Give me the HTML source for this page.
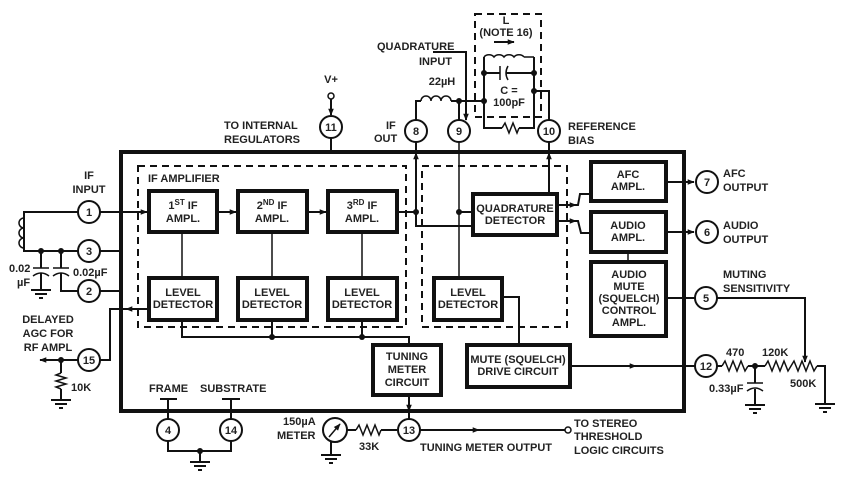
<!DOCTYPE html>
<html><head><meta charset="utf-8"><style>
html,body{margin:0;padding:0;background:#fff}
svg text{font-family:"Liberation Sans",sans-serif;font-weight:bold;font-size:11px;fill:#222}
</style></head><body>
<svg width="845" height="480" viewBox="0 0 845 480" xmlns="http://www.w3.org/2000/svg">
<defs>
<marker id="a" viewBox="0 0 10 10" refX="9" refY="5" markerWidth="8" markerHeight="7" markerUnits="userSpaceOnUse" orient="auto"><path d="M0,1 L10,5 L0,9z" fill="#111"/></marker>
</defs>
<g fill="none" stroke="#111">
<rect x="121" y="152" width="563" height="259" stroke-width="4"/>
<rect x="138" y="166" width="268" height="161" stroke-width="2" stroke-dasharray="7,5"/>
<rect x="422" y="166" width="145" height="161" stroke-width="2" stroke-dasharray="7,5"/>
<rect x="475" y="14" width="66" height="103" stroke-width="2" stroke-dasharray="7,5"/>
<g stroke-width="4">
<rect x="149" y="191" width="68" height="41"/>
<rect x="238" y="191" width="69" height="41"/>
<rect x="328" y="191" width="69" height="41"/>
<rect x="149" y="278" width="68" height="42"/>
<rect x="238" y="278" width="69" height="42"/>
<rect x="328" y="278" width="69" height="42"/>
<rect x="473" y="194" width="84" height="41"/>
<rect x="434" y="278" width="68" height="42"/>
<rect x="591" y="162" width="75" height="39"/>
<rect x="591" y="212" width="75" height="40"/>
<rect x="591" y="262" width="75" height="74"/>
<rect x="373" y="345" width="68" height="50"/>
<rect x="467" y="345" width="103" height="42"/>
</g>
<g stroke-width="1.5">
<line x1="182" y1="232" x2="182" y2="278"/><line x1="272" y1="232" x2="272" y2="278"/><line x1="362" y1="232" x2="362" y2="278"/>
<line x1="459" y1="142" x2="459" y2="278"/>
<line x1="628" y1="252" x2="628" y2="262"/>
</g>
<g stroke-width="2">
<line x1="100" y1="212" x2="147" y2="212" marker-end="url(#a)"/>
<line x1="217" y1="212" x2="236" y2="212" marker-end="url(#a)"/>
<line x1="307" y1="212" x2="326" y2="212" marker-end="url(#a)"/>
<line x1="397" y1="212" x2="416" y2="212"/>
<polyline points="416,212 416,226 440,226"/><line x1="430" y1="226" x2="471" y2="226"/>
<line x1="416" y1="212" x2="416" y2="153" marker-end="url(#a)"/>
<line x1="416" y1="142" x2="416" y2="150"/>
<line x1="459" y1="212" x2="471" y2="212"/>
<line x1="549" y1="194" x2="549" y2="153" marker-end="url(#a)"/>
<line x1="549" y1="142" x2="549" y2="152"/>
<polyline points="557,205 578,205 580,194 590,194"/><line x1="557" y1="205" x2="576" y2="205" marker-end="url(#a)"/>
<polyline points="557,221 578,221 581,233 590,233"/><line x1="557" y1="221" x2="576" y2="221" marker-end="url(#a)"/>
<line x1="666" y1="182" x2="694" y2="182" marker-end="url(#a)"/>
<line x1="666" y1="232" x2="694" y2="232" marker-end="url(#a)"/>
<line x1="666" y1="298" x2="695" y2="298"/>
<polyline points="149,309 110,309 110,360 100,360"/><line x1="149" y1="309" x2="126" y2="309" marker-end="url(#a)"/>
<polyline points="182,320 182,337 409,337 409,345"/>
<line x1="272" y1="320" x2="272" y2="337"/><line x1="362" y1="320" x2="362" y2="337"/>
<polyline points="502,297 519,297 519,345"/>
<line x1="570" y1="366" x2="695" y2="366"/><line x1="570" y1="366" x2="636" y2="366" marker-end="url(#a)"/>
<line x1="409" y1="395" x2="409" y2="411" marker-end="url(#a)"/>
<line x1="409" y1="411" x2="409" y2="419"/>
<line x1="331" y1="138" x2="331" y2="152"/>
<line x1="331" y1="99" x2="331" y2="115" marker-end="url(#a)"/>
<line x1="100" y1="251" x2="121" y2="251"/><line x1="100" y1="291" x2="121" y2="291"/>
<polyline points="78,212 24,212 24,251 78,251"/>
<line x1="41" y1="251" x2="41" y2="268"/><line x1="61" y1="251" x2="61" y2="268"/>
<polyline points="61,273 61,291 78,291"/>
<line x1="41" y1="273" x2="41" y2="290"/>
<line x1="78" y1="360" x2="40" y2="360" marker-end="url(#a)"/>
<line x1="61" y1="360" x2="61" y2="373"/><line x1="61" y1="389" x2="61" y2="400"/>
<line x1="168" y1="399" x2="168" y2="419"/><line x1="231" y1="399" x2="231" y2="419"/>
<line x1="160" y1="399" x2="177" y2="399"/><line x1="222" y1="399" x2="240" y2="399"/>
<polyline points="168,441 168,451 231,451 231,441"/>
<line x1="200" y1="451" x2="200" y2="462"/>
<line x1="346" y1="430" x2="356" y2="430"/><line x1="381" y1="430" x2="397" y2="430"/>
<line x1="331" y1="441" x2="331" y2="455"/>
<line x1="420" y1="430" x2="565" y2="430"/><line x1="420" y1="430" x2="479" y2="430" marker-end="url(#a)"/>
<polyline points="416,120 416,101 421,101"/>
<line x1="451" y1="101" x2="484" y2="101"/><line x1="459" y1="101" x2="459" y2="120"/>
<polyline points="484,73 484,128 502,128"/><polyline points="519,128 534,128 534,73"/>
<polyline points="484,57 484,73"/><polyline points="534,57 534,73"/>
<line x1="484" y1="73" x2="500" y2="73"/><line x1="506" y1="73" x2="534" y2="73"/>
<polyline points="534,91 549,91 549,120"/><line x1="534" y1="73" x2="534" y2="91"/>
<polyline points="433,52 466,52 466,104"/><line x1="466" y1="90" x2="466" y2="120" marker-end="url(#a)"/>
<line x1="494" y1="42" x2="514" y2="42" marker-end="url(#a)"/>
<polyline points="717,298 805,298 805,350"/><line x1="805" y1="330" x2="805" y2="362" marker-end="url(#a)"/>
<line x1="717" y1="366" x2="722" y2="366"/><line x1="748" y1="366" x2="765" y2="366"/>
<line x1="755" y1="366" x2="755" y2="383"/><line x1="755" y1="389" x2="755" y2="405"/>
<polyline points="817,366 825,366 825,404"/>
</g>
<g stroke-width="1.5">
<polyline points="722,366 725,361 729,371 733,361 737,371 741,361 745,371 748,366"/>
<polyline points="765,366 768,361 772,371 776,361 780,371 784,361 788,371 791,366 794,361 798,371 802,361 806,371 810,361 814,371 817,366"/>
<polyline points="356,430 359,425 363,435 367,425 371,435 375,425 379,435 381,430"/>
<polyline points="61,373 56,375 66,378 56,381 66,384 56,387 61,389"/>
<polyline points="502,128 505,123 509,133 513,123 517,133 519,128"/>
<path d="M421,101 a5,5 0 0 1 10,0 a5,5 0 0 1 10,0 a5,5 0 0 1 10,0"/>
<path d="M484,57 a6,5 0 0 1 10,0 a6,5 0 0 1 10,0 a6,5 0 0 1 10,0 a6,5 0 0 1 10,0 M524,57 L534,57"/>
<path d="M24,218 a5,5 0 0 0 0,10 a5,5 0 0 0 0,10 a5,5 0 0 0 0,10"/>
<line x1="500" y1="66" x2="500" y2="80"/><path d="M508,66 q-4,7 0,14"/>
<line x1="33" y1="268" x2="49" y2="268"/><path d="M33,276 q8,-6 16,0"/>
<line x1="53" y1="268" x2="69" y2="268"/><path d="M53,276 q8,-6 16,0"/>
<line x1="747" y1="383" x2="763" y2="383"/><path d="M747,391 q8,-6 16,0"/>
</g>
<g stroke-width="2">
<path d="M31,290h20M35,294h12M39,298h4"/>
<path d="M51,400h20M55,404h12M59,408h4"/>
<path d="M190,462h20M194,466h12M198,470h4"/>
<path d="M321,455h20M325,459h12M329,463h4"/>
<path d="M745,405h20M749,409h12M753,413h4"/>
<path d="M815,404h20M819,408h12M823,412h4"/>
</g>
<circle cx="335" cy="430" r="12" stroke-width="2" fill="#fff"/>
<line x1="329" y1="437" x2="340" y2="424" stroke-width="1.5" marker-end="url(#a)"/>
<g stroke-width="2" fill="#fff">
<circle cx="89" cy="212" r="11"/><circle cx="89" cy="251" r="11"/><circle cx="89" cy="291" r="11"/><circle cx="89" cy="360" r="11"/>
<circle cx="168" cy="430" r="11"/><circle cx="231" cy="430" r="11"/><circle cx="409" cy="430" r="11"/>
<circle cx="416" cy="131" r="11"/><circle cx="459" cy="131" r="11"/><circle cx="549" cy="131" r="11"/><circle cx="331" cy="127" r="11"/>
<circle cx="707" cy="182" r="11"/><circle cx="707" cy="232" r="11"/><circle cx="706" cy="298" r="11"/><circle cx="706" cy="366" r="11"/>
<circle cx="331" cy="96" r="3" stroke-width="1.5"/><circle cx="568" cy="430" r="3" stroke-width="1.5"/>
</g>
</g>
<g fill="#111">
<circle cx="416" cy="212" r="3"/><circle cx="459" cy="212" r="3"/><circle cx="272" cy="337" r="3"/><circle cx="362" cy="337" r="3"/>
<circle cx="61" cy="360" r="3"/><circle cx="41" cy="251" r="3"/><circle cx="61" cy="251" r="3"/>
<circle cx="200" cy="451" r="3"/><circle cx="459" cy="101" r="3"/><circle cx="484" cy="101" r="3"/><circle cx="484" cy="73" r="3"/><circle cx="534" cy="73" r="3"/><circle cx="534" cy="91" r="3"/>
<circle cx="755" cy="366" r="3"/>
</g>
<g text-anchor="middle">
<text x="89" y="216">1</text><text x="89" y="255">3</text><text x="89" y="295">2</text><text x="89" y="364">15</text>
<text x="168" y="434">4</text><text x="231" y="434">14</text><text x="409" y="434">13</text>
<text x="416" y="135">8</text><text x="459" y="135">9</text><text x="549" y="135">10</text><text x="331" y="131">11</text>
<text x="707" y="186">7</text><text x="707" y="236">6</text><text x="706" y="302">5</text><text x="706" y="370">12</text>
<text x="183" y="209">1<tspan dy="-4" font-size="8">ST</tspan><tspan dy="4"> IF</tspan></text><text x="183" y="222">AMPL.</text>
<text x="272" y="209">2<tspan dy="-4" font-size="8">ND</tspan><tspan dy="4"> IF</tspan></text><text x="272" y="222">AMPL.</text>
<text x="362" y="209">3<tspan dy="-4" font-size="8">RD</tspan><tspan dy="4"> IF</tspan></text><text x="362" y="222">AMPL.</text>
<text x="183" y="296">LEVEL</text><text x="183" y="308">DETECTOR</text>
<text x="272" y="296">LEVEL</text><text x="272" y="308">DETECTOR</text>
<text x="362" y="296">LEVEL</text><text x="362" y="308">DETECTOR</text>
<text x="468" y="296">LEVEL</text><text x="468" y="308">DETECTOR</text>
<text x="515" y="212">QUADRATURE</text><text x="515" y="224">DETECTOR</text>
<text x="628" y="178">AFC</text><text x="628" y="190">AMPL.</text>
<text x="628" y="229">AUDIO</text><text x="628" y="241">AMPL.</text>
<text x="629" y="278">AUDIO</text><text x="629" y="290">MUTE</text><text x="629" y="302">(SQUELCH)</text><text x="629" y="314">CONTROL</text><text x="629" y="326">AMPL.</text>
<text x="407" y="360">TUNING</text><text x="407" y="373">METER</text><text x="407" y="386">CIRCUIT</text>
<text x="518" y="363">MUTE (SQUELCH)</text><text x="518" y="375">DRIVE CIRCUIT</text>
<text x="89" y="179">IF</text><text x="89" y="193">INPUT</text>
<text x="48" y="323">DELAYED</text><text x="48" y="337">AGC FOR</text><text x="48" y="351">RF AMPL</text>
<text x="331" y="83">V+</text>
<text x="506" y="24">L</text><text x="506" y="36">(NOTE 16)</text>
<text x="509" y="94">C =</text><text x="509" y="106">100pF</text>
<text x="442" y="85">22µH</text>
</g>
<text x="148" y="182">IF AMPLIFIER</text>
<text x="9" y="272">0.02</text><text x="17" y="286">µF</text>
<text x="73" y="276">0.02µF</text>
<text x="71" y="391">10K</text>
<text x="149" y="392">FRAME</text><text x="200" y="392">SUBSTRATE</text>
<text x="224" y="129">TO INTERNAL</text><text x="224" y="143">REGULATORS</text>
<text x="386" y="129">IF</text><text x="374" y="142">OUT</text>
<text x="377" y="50">QUADRATURE</text><text x="419" y="65">INPUT</text>
<text x="568" y="130">REFERENCE</text><text x="568" y="144">BIAS</text>
<text x="723" y="177">AFC</text><text x="723" y="191">OUTPUT</text>
<text x="723" y="229">AUDIO</text><text x="723" y="243">OUTPUT</text>
<text x="723" y="278">MUTING</text><text x="723" y="292">SENSITIVITY</text>
<text x="726" y="356">470</text><text x="762" y="356">120K</text><text x="790" y="387">500K</text>
<text x="709" y="392">0.33µF</text>
<text x="283" y="425">150µA</text><text x="277" y="439">METER</text>
<text x="359" y="450">33K</text>
<text x="420" y="451">TUNING METER OUTPUT</text>
<text x="574" y="427">TO STEREO</text><text x="574" y="440">THRESHOLD</text><text x="574" y="454">LOGIC CIRCUITS</text>
</svg>
</body></html>
